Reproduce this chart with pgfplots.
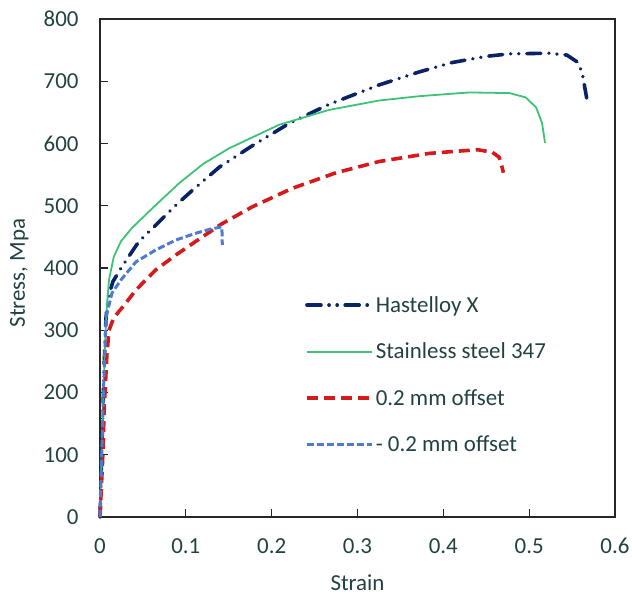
\documentclass[border=0pt]{standalone}
\usepackage{fontspec}
\setmainfont{Carlito}
\usepackage{pgfplots}
\pgfplotsset{compat=1.18}
\definecolor{navyc}{HTML}{0B2366}
\definecolor{greenc}{HTML}{3EC376}
\definecolor{redc}{HTML}{D41A1A}
\definecolor{bluec}{HTML}{4C7BD0}
\definecolor{txt}{HTML}{234141}
\begin{document}
\begin{tikzpicture}
\begin{axis}[
  at={(0,0)}, anchor=south west,
  scale only axis, width=515bp, height=498bp,
  xmin=0, xmax=0.6, ymin=0, ymax=800,
  xtick={0,0.1,0.2,0.3,0.4,0.5,0.6},
  xticklabels={0,0.1,0.2,0.3,0.4,0.5,0.6},
  ytick={0,100,200,300,400,500,600,700,800},
  yticklabels={0,100,200,300,400,500,600,700,800},
  tick pos=left, tick align=inside, major tick length=8bp,
  axis line style={line width=1.3bp, black!85},
  every tick/.style={line width=1.3bp, black!85},
  tick label style={font=\fontsize{23}{27}\selectfont, text=txt},
  yticklabel style={xshift=-18bp},
  xticklabel style={yshift=-18bp},
  xlabel={Strain}, ylabel={Stress, Mpa},
  label style={font=\fontsize{23}{27}\selectfont, text=txt},
  xlabel style={at={(rel axis cs:0.5,0)}, anchor=north, yshift=-54bp},
  ylabel style={at={(rel axis cs:0,0.49)}, anchor=south, yshift=68bp},
  clip=false,
  legend style={at={(rel axis cs:0.398,0.447)}, anchor=north west, draw=none, fill=none,
    font=\fontsize{23}{27}\selectfont, text=txt, row sep=25bp, inner sep=0pt},
  legend cell align=left,
  legend image code/.code={\draw[#1] (0bp,0bp) -- (65bp,0bp);},
]
\addplot[navyc, line width=3.6bp, line cap=round,
  dash pattern=on 14bp off 8bp on 0.1bp off 8bp on 0.1bp off 8bp]
coordinates {(0,0) (0.003,150) (0.005,250) (0.007,320) (0.0093,352) (0.015,378)
 (0.0245,400) (0.045,442) (0.065,469) (0.0885,501) (0.107,524) (0.139,562)
 (0.177,596) (0.22,632) (0.267,663) (0.325,694) (0.372,715) (0.41,730)
 (0.45,740) (0.477,744) (0.523,745) (0.544,742) (0.556,731) (0.5616,715) (0.567,673)};
\addlegendentry{Hastelloy X}
\addplot[greenc, line width=1.8bp]
coordinates {(0,0) (0.003,150) (0.006,280) (0.008,340) (0.0105,381) (0.016,418)
 (0.0245,443) (0.037,464) (0.061,496) (0.092,536) (0.12,567) (0.150,592)
 (0.2085,630) (0.267,654) (0.325,669) (0.372,676) (0.43,682) (0.477,681)
 (0.496,674) (0.508,658) (0.515,633) (0.5185,601)};
\addlegendentry{Stainless steel 347}
\addplot[redc, line width=3.6bp, dash pattern=on 11bp off 6bp]
coordinates {(0,0) (0.003,90) (0.005,177) (0.008,260) (0.0105,300) (0.016,320)
 (0.028,340) (0.042,365) (0.065,397) (0.0885,421) (0.115,446) (0.142,471)
 (0.177,498) (0.224,528) (0.275,553) (0.325,571) (0.383,584) (0.41,587)
 (0.44,590) (0.457,586) (0.465,578) (0.4684,562) (0.47,553)};
\addlegendentry{0.2 mm offset}
\addplot[bluec, line width=3bp, dash pattern=on 7bp off 3bp]
coordinates {(0,0) (0.002,100) (0.004,200) (0.006,280) (0.007,321) (0.014,360)
 (0.0245,381) (0.042,410) (0.065,429) (0.0885,445) (0.112,456) (0.13,463)
 (0.142,466) (0.1425,437)};
\addlegendentry{- 0.2 mm offset}
\end{axis}
\pgfresetboundingbox
\path[use as bounding box] (-100bp,-79bp) rectangle (532bp,517bp);
\end{tikzpicture}
\end{document}
